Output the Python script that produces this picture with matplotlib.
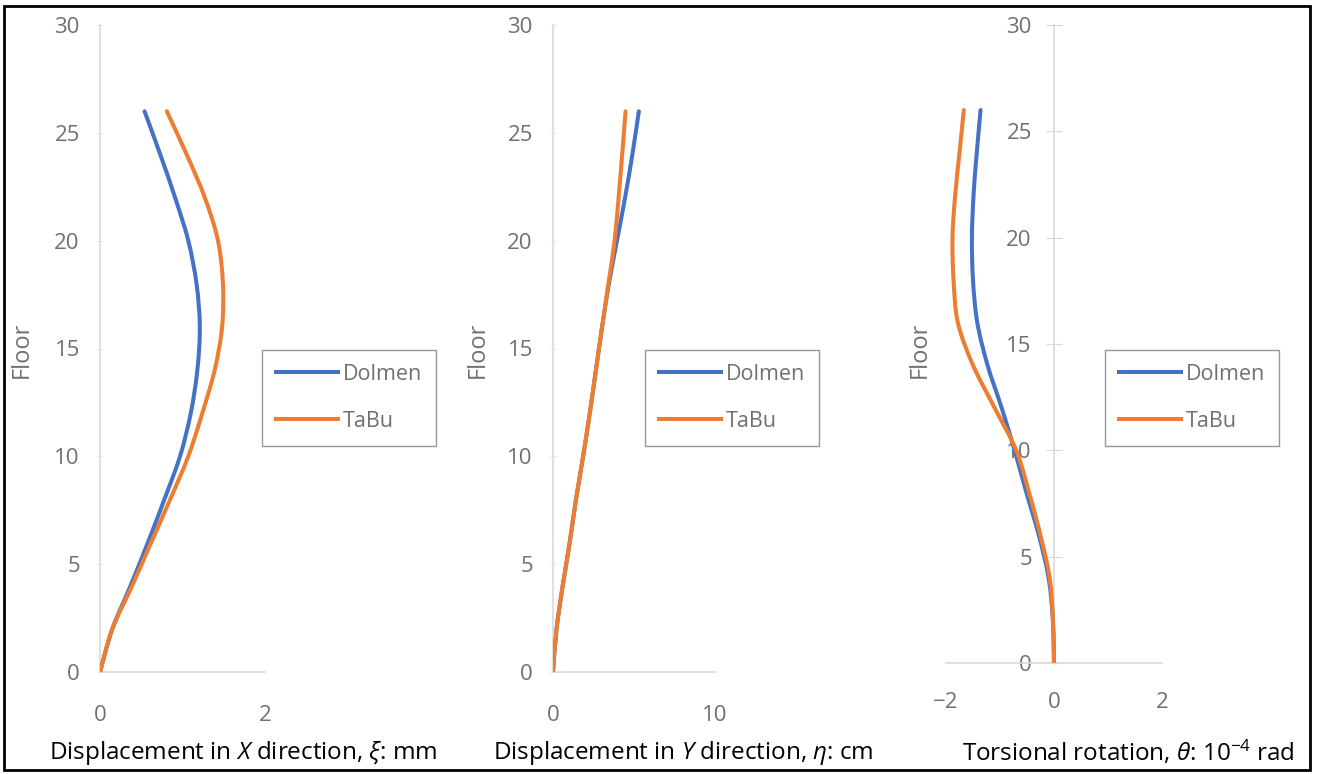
import numpy as np
import matplotlib.pyplot as plt
from matplotlib.path import Path
from matplotlib.patches import PathPatch, Rectangle
from matplotlib.lines import Line2D

plt.rcParams['font.family'] = ['Open Sans', 'DejaVu Sans']
plt.rcParams['mathtext.fontset'] = 'custom'
plt.rcParams['mathtext.rm'] = 'Open Sans'
plt.rcParams['mathtext.it'] = 'Open Sans:italic'

# floors (read every 2 floors)
floors = [0, 2, 4, 6, 8, 10, 12, 14, 16, 18, 20, 22, 24, 26]

# displacement in X direction (mm)
x_dolmen = [0, 0.15, 0.37, 0.58, 0.78, 0.97, 1.10, 1.18, 1.21, 1.17, 1.07, 0.91, 0.73, 0.54]
x_tabu = [0, 0.15, 0.39, 0.62, 0.85, 1.07, 1.24, 1.39, 1.48, 1.49, 1.43, 1.27, 1.05, 0.81]

# displacement in Y direction (cm)
y_dolmen = [0, 0.22, 0.60, 1.03, 1.42, 1.86, 2.27, 2.65, 3.03, 3.45, 3.95, 4.45, 4.90, 5.30]
y_tabu = [0, 0.22, 0.60, 1.03, 1.42, 1.86, 2.27, 2.65, 3.03, 3.42, 3.80, 4.05, 4.27, 4.48]

# torsional rotation (1e-4 rad)
t_dolmen = [0, -0.02, -0.10, -0.28, -0.51, -0.73, -0.97, -1.23, -1.42, -1.50, -1.52, -1.49, -1.43, -1.36]
t_tabu = [0, -0.02, -0.08, -0.25, -0.46, -0.70, -1.10, -1.50, -1.78, -1.86, -1.88, -1.83, -1.75, -1.67]

series_names = ['Dolmen', 'TaBu']
colors = ['#4472C4', '#ED7D31']
xlabels = [r'Displacement in $\mathit{X}$ direction, $\mathit{\xi}$: mm',
           r'Displacement in $\mathit{Y}$ direction, $\mathit{\eta}$: cm',
           r'Torsional rotation, $\mathit{\theta}$: $\mathrm{10^{-4}}$ rad']
xlims = [(0, 2), (0, 10), (-2, 2)]
xticks = [[0, 2], [0, 10], [-2, 0, 2]]

W, H = 1321, 774
fig = plt.figure(figsize=(W / 100, H / 100), dpi=100)


def px_axes(left, right, top, bottom):
    return fig.add_axes([left / W, 1 - bottom / H, (right - left) / W, (bottom - top) / H])


def smooth(ax, xs, ys, color):
    # excel style smoothed line (catmull-rom -> bezier)
    pts = np.column_stack([xs, ys]).astype(float)
    verts = [pts[0]]
    codes = [Path.MOVETO]
    n = len(pts)
    for i in range(n - 1):
        p0 = pts[i - 1] if i > 0 else pts[i]
        p1 = pts[i]
        p2 = pts[i + 1]
        p3 = pts[i + 2] if i + 2 < n else pts[i + 1]
        verts += [p1 + (p2 - p0) / 6, p2 - (p3 - p1) / 6, p2]
        codes += [Path.CURVE4] * 3
    ax.add_patch(PathPatch(Path(verts, codes), fill=False, edgecolor=color,
                           lw=2.9, capstyle='round', zorder=3))


ax1 = px_axes(100, 265, 25, 672)
ax2 = px_axes(553, 715, 25, 672)
ax3 = px_axes(946, 1162, 25, 663)
axes = [ax1, ax2, ax3]
data = [(x_dolmen, x_tabu), (y_dolmen, y_tabu), (t_dolmen, t_tabu)]
legend_x = [262, 645, 1105]
label_cx = [243, 683, 1128]
floor_x = [22, 478, 920]
xpads = [24, 24, 21]

for i, ax in enumerate(axes):
    for vals, c in zip(data[i], colors):
        smooth(ax, vals, floors, c)
    ax.set_xlim(*xlims[i])
    ax.set_ylim(0, 30)
    ax.set_xticks(xticks[i])
    ax.set_yticks(range(0, 31, 5))
    for s in ['top', 'right']:
        ax.spines[s].set_visible(False)
    ax.spines['left'].set_color('#d9d9d9')
    ax.spines['bottom'].set_color('#d9d9d9')
    ax.spines['left'].set_linewidth(1.2)
    ax.spines['bottom'].set_linewidth(1.2)
    ax.tick_params(axis='both', colors='#707070', labelsize=16)
    ax.tick_params(axis='x', length=0, pad=xpads[i])
    ax.tick_params(axis='y', length=5, direction='inout', color='#e8e8e8', pad=12)
    ax.patch.set_alpha(0)
    handles = [Line2D([], [], color=c, lw=2.9) for c in colors]
    fig.legend(handles, series_names, loc='upper left',
               bbox_to_anchor=(legend_x[i] / W, 1 - 350 / H), bbox_transform=fig.transFigure,
               borderaxespad=0, fontsize=15.5, frameon=True, fancybox=False,
               edgecolor='#7f7f7f', handlelength=2.9, handletextpad=0.2,
               labelspacing=1.2, borderpad=0.65, labelcolor='#707070')
    fig.text(floor_x[i] / W, 1 - 350 / H, 'Floor', rotation=90, color='#707070',
             fontsize=17, ha='center', va='center')
    fig.text(label_cx[i] / W, 1 - 753 / H, xlabels[i], fontsize=17.5, color='black',
             ha='center', va='center')

# third panel: y axis crosses at 0
ax3.spines['left'].set_position(('data', 0))
ax3.tick_params(axis='y', length=12, color='#d9d9d9', pad=10)

fig.add_artist(Rectangle((4 / W, 4 / H), 1306 / W, 764 / H, transform=fig.transFigure,
                         fill=False, edgecolor='black', lw=2))

fig.savefig('out.png', dpi=100)
